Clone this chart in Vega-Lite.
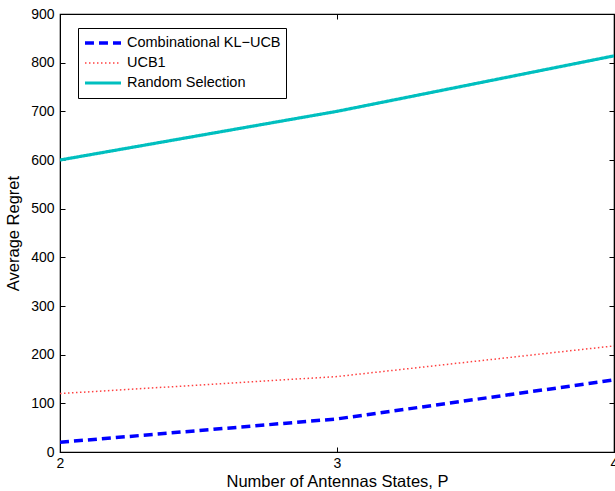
{
  "$schema": "https://vega.github.io/schema/vega-lite/v6.json",
  "width": 554,
  "height": 438,
  "autosize": "none",
  "padding": {"left": 60, "top": 14, "right": 1, "bottom": 39},
  "background": "white",
  "config": {
    "font": "Liberation Sans",
    "view": {"stroke": "black", "strokeWidth": 1.2},
    "axis": {
      "grid": false,
      "domainColor": "black",
      "tickColor": "black",
      "labelColor": "black",
      "titleColor": "black",
      "labelFontSize": 14,
      "titleFontSize": 16.5,
      "titleFontWeight": "normal",
      "labelFont": "Liberation Sans",
      "titleFont": "Liberation Sans",
      "labelFlush": false,
      "labelOverlap": false
    }
  },
  "resolve": {"axis": {"x": "independent", "y": "independent"}},
  "data": {
    "values": [
      {"P": 2, "regret": 20, "series": "Combinational KL\u2212UCB"},
      {"P": 3, "regret": 68, "series": "Combinational KL\u2212UCB"},
      {"P": 4, "regret": 148, "series": "Combinational KL\u2212UCB"},
      {"P": 2, "regret": 120, "series": "UCB1"},
      {"P": 3, "regret": 155, "series": "UCB1"},
      {"P": 4, "regret": 218, "series": "UCB1"},
      {"P": 2, "regret": 600, "series": "Random Selection"},
      {"P": 3, "regret": 700, "series": "Random Selection"},
      {"P": 4, "regret": 814, "series": "Random Selection"}
    ]
  },
  "layer": [
    {
      "mark": {"type": "line", "clip": true},
      "encoding": {
        "x": {
          "field": "P", "type": "quantitative",
          "scale": {"domain": [2, 4], "nice": false},
          "axis": {"tickCount": 2, "labelOverlap": false, "labelFlush": false, "labelBound": false, "title": "Number of Antennas States, P", "tickSize": -5, "labelPadding": 9, "titlePadding": 3}
        },
        "y": {
          "field": "regret", "type": "quantitative",
          "scale": {"domain": [0, 900], "nice": false},
          "axis": {"values": [0, 100, 200, 300, 400, 500, 600, 700, 800, 900], "title": "Average Regret", "tickSize": -5, "labelPadding": 11, "titlePadding": 9}
        },
        "color": {
          "field": "series", "type": "nominal",
          "scale": {"domain": ["Combinational KL\u2212UCB", "UCB1", "Random Selection"], "range": ["#0000ff", "#ff4040", "#00bfbf"]},
          "legend": {
            "title": null,
            "orient": "none",
            "legendX": 18,
            "legendY": 14,
            "strokeColor": "black",
            "fillColor": "white",
            "padding": 5,
            "symbolType": "stroke",
            "symbolSize": 1300,
            "clipHeight": 20,
            "labelFontSize": 14.5,
            "labelFont": "Liberation Sans",
            "labelColor": "black",
            "rowPadding": 0,
            "labelOffset": 4
          }
        },
        "strokeDash": {
          "field": "series", "type": "nominal",
          "scale": {"domain": ["Combinational KL\u2212UCB", "UCB1", "Random Selection"], "range": [[9, 5], [1.5, 2.5], [1, 0]]},
          "legend": null
        },
        "strokeWidth": {
          "field": "series", "type": "nominal",
          "scale": {"type": "ordinal", "domain": ["Combinational KL\u2212UCB", "UCB1", "Random Selection"], "range": [3.5, 1.5, 3.2]},
          "legend": null
        }
      }
    },
    {
      "mark": {"type": "point", "opacity": 0},
      "encoding": {
        "x": {"field": "P", "type": "quantitative", "axis": {"orient": "top", "tickCount": 2, "labels": false, "title": null, "tickSize": -5}},
        "y": {"field": "regret", "type": "quantitative", "axis": {"orient": "right", "values": [0, 100, 200, 300, 400, 500, 600, 700, 800, 900], "labels": false, "title": null, "tickSize": -5}}
      }
    }
  ]
}
